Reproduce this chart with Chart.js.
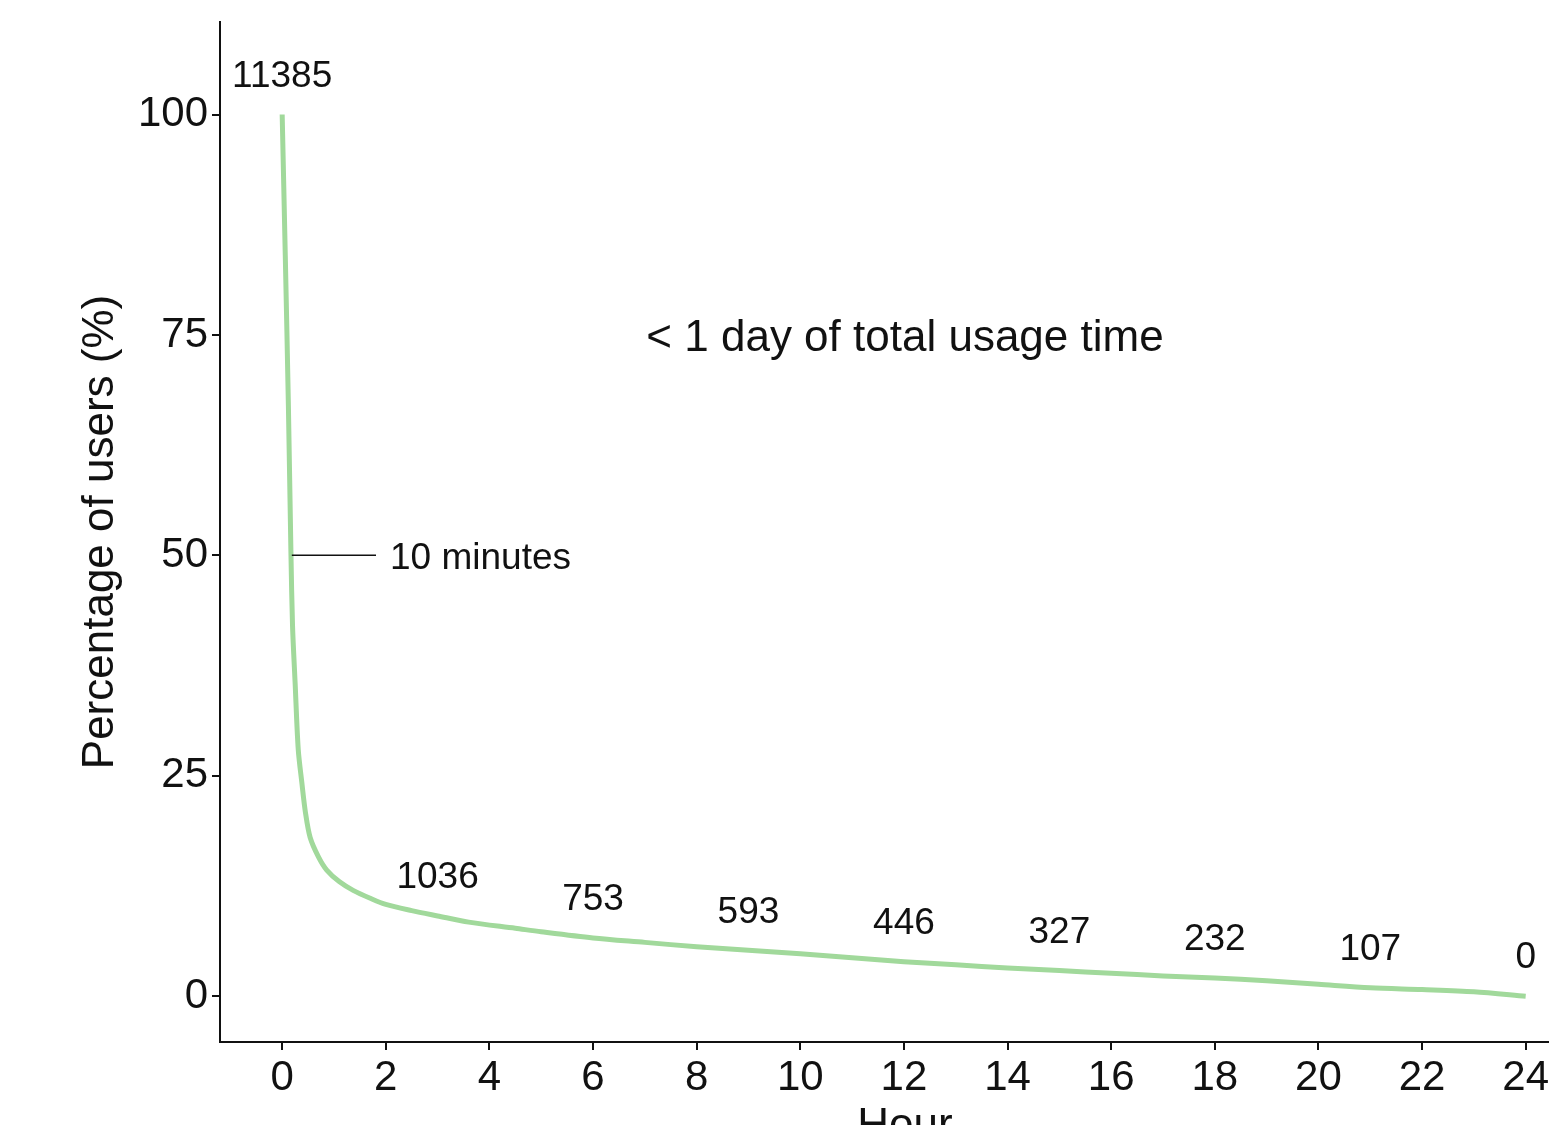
<!DOCTYPE html>
<html>
<head>
<meta charset="utf-8">
<script src="https://cdn.jsdelivr.net/npm/chart.js@4.4.0/dist/chart.umd.min.js"></script>
<style>
  body { margin: 0; background: #fff; overflow: hidden; }
  canvas { display: block; }
</style>
</head>
<body>
<canvas id="retention" width="1549" height="1125"></canvas>
<script>
// curve (hours, % of users still active)
const hours = [0, 0.06, 0.12, 0.17, 0.2, 0.25, 0.31, 0.38, 0.45, 0.54, 0.7, 0.86, 1.1, 1.37, 1.7, 2, 2.5, 3,
  3.6, 4.5, 5, 6, 7, 8, 9, 10, 11, 12, 13, 14, 15, 16, 17, 18, 19, 20, 21, 22, 23, 24];
const percent = [100, 84, 67, 50, 42, 35.5, 28, 24.2, 20.8, 18, 15.8, 14.3, 13, 12, 11.1, 10.4, 9.7, 9.1,
  8.4, 7.7, 7.3, 6.6, 6.1, 5.6, 5.2, 4.8, 4.35, 3.9, 3.55, 3.2, 2.9, 2.6, 2.3, 2.05, 1.75, 1.35, 0.95, 0.75, 0.5, 0];

// user counts printed above the curve
const countHours = [0, 3, 6, 9, 12, 15, 18, 21, 24];
const counts = [11385, 1036, 753, 593, 446, 327, 232, 107, 0];

const xTicks = [0, 2, 4, 6, 8, 10, 12, 14, 16, 18, 20, 22, 24];
const yTicks = [0, 25, 50, 75, 100];

const FONT = '"Liberation Sans", Arial, sans-serif';

const points = hours.map((h, i) => ({x: h, y: percent[i]}));

// value at a given hour, for placing the counts
function valueAt(h) {
  for (let i = 1; i < hours.length; i++) {
    if (h <= hours[i]) {
      const t = (h - hours[i - 1]) / (hours[i] - hours[i - 1]);
      return percent[i - 1] + t * (percent[i] - percent[i - 1]);
    }
  }
  return percent[percent.length - 1];
}

const extras = {
  id: 'extras',
  afterDraw(chart) {
    const ctx = chart.ctx;
    const xs = chart.scales.x, ys = chart.scales.y;
    ctx.save();
    ctx.fillStyle = '#111';
    ctx.textAlign = 'center';
    ctx.textBaseline = 'middle';

    ctx.font = '37px ' + FONT;
    countHours.forEach((h, i) => {
      ctx.fillText(String(counts[i]), xs.getPixelForValue(h), ys.getPixelForValue(valueAt(h)) - 38);
    });

    // 10 minutes marker
    const y50 = ys.getPixelForValue(50);
    ctx.strokeStyle = '#111';
    ctx.lineWidth = 1.5;
    ctx.beginPath();
    ctx.moveTo(xs.getPixelForValue(10 / 60) + 1, y50);
    ctx.lineTo(376, y50);
    ctx.stroke();
    ctx.textAlign = 'left';
    ctx.font = '37px ' + FONT;
    ctx.fillText('10 minutes', 390, y50 + 3);

    ctx.textAlign = 'center';
    ctx.font = '44px ' + FONT;
    ctx.fillText('< 1 day of total usage time', 905, 339);

    ctx.fillText('Hour', 905, 1127);
    ctx.restore();
  }
};

new Chart(document.getElementById('retention'), {
  type: 'line',
  data: {
    datasets: [{
      data: points,
      borderColor: '#a1d99b',
      borderWidth: 5,
      pointRadius: 0,
      tension: 0.3,
      fill: false
    }]
  },
  options: {
    responsive: false,
    animation: false,
    layout: { padding: { top: 22, left: 0, right: 0, bottom: 0 } },
    plugins: { legend: { display: false }, tooltip: { enabled: false } },
    scales: {
      x: {
        type: 'linear',
        min: -1.2,
        max: 24.45,
        afterBuildTicks: s => { s.ticks = xTicks.map(v => ({value: v})); },
        afterFit: s => { s.height = 83; s.paddingLeft = 0; s.paddingRight = 0; },
        border: { color: '#111', width: 2 },
        grid: { drawOnChartArea: false, drawTicks: true, tickLength: 8, color: '#111', lineWidth: 2 },
        ticks: { color: '#111', font: { family: FONT, size: 42 }, padding: 3, maxRotation: 0, autoSkip: false }
      },
      y: {
        min: -5.2,
        max: 110.5,
        afterBuildTicks: s => { s.ticks = yTicks.map(v => ({value: v})); },
        afterFit: s => { s.width = 220; s.paddingTop = 0; s.paddingBottom = 0; },
        border: { color: '#111', width: 2 },
        grid: { drawOnChartArea: false, drawTicks: true, tickLength: 8, color: '#111', lineWidth: 2 },
        ticks: { color: '#111', font: { family: FONT, size: 42 }, padding: 4 },
        title: {
          display: true,
          text: 'Percentage of users (%)',
          color: '#111',
          font: { family: FONT, size: 44 },
          padding: { top: 74, bottom: 0 }
        }
      }
    }
  },
  plugins: [extras]
});
</script>
</body>
</html>
